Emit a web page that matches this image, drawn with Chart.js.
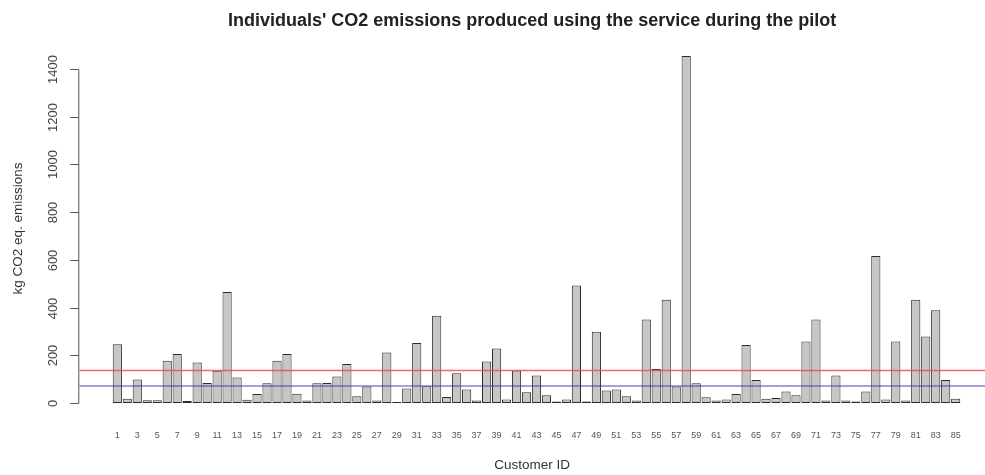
<!DOCTYPE html>
<html>
<head>
<meta charset="utf-8">
<title>Individuals' CO2 emissions</title>
<script src="https://cdn.jsdelivr.net/npm/chart.js@4/dist/chart.umd.min.js"></script>
<style>
  html, body { margin: 0; padding: 0; background: #ffffff; }
  #wrap { width: 985px; height: 475px; }
</style>
</head>
<body>
<div id="wrap"><canvas id="chart" width="985" height="475"></canvas></div>
<script>
// Customer IDs shown along the horizontal axis
const customerIds = [
  1, 2, 3, 4, 5, 6, 7, 8, 9, 10,
  11, 12, 13, 14, 15, 16, 17, 18, 19, 20,
  21, 22, 23, 24, 25, 26, 27, 28, 29, 30,
  31, 32, 33, 34, 35, 36, 37, 38, 39, 40,
  41, 42, 43, 44, 45, 46, 47, 48, 49, 50,
  51, 52, 53, 54, 55, 56, 57, 58, 59, 60,
  61, 62, 63, 64, 65, 66, 67, 68, 69, 70,
  71, 72, 73, 74, 75, 76, 77, 78, 79, 80,
  81, 82, 83, 84, 85
];

// kg CO2 eq. emitted by each customer during the pilot
const emissions = [
  246, 18, 98, 11, 11, 177, 205, 8, 170, 84,
  135, 465, 107, 13, 37, 82, 177, 205, 39, 10,
  82, 84, 111, 163, 28, 69, 10, 211, 4, 60,
  251, 70, 365, 25, 124, 56, 10, 174, 228, 14,
  136, 45, 115, 32, 6, 14, 492, 6, 298, 52,
  56, 28, 10, 350, 142, 433, 69, 1455, 82, 24,
  10, 14, 37, 243, 96, 17, 21, 48, 32, 258,
  350, 10, 115, 10, 6, 48, 616, 14, 258, 10,
  433, 279, 389, 96, 17
];

// Labelled IDs on the horizontal axis (every other customer)
const idTicks = [
  1, 3, 5, 7, 9, 11, 13, 15, 17, 19, 21, 23, 25, 27, 29, 31, 33, 35, 37, 39, 41, 43,
  45, 47, 49, 51, 53, 55, 57, 59, 61, 63, 65, 67, 69, 71, 73, 75, 77, 79, 81, 83, 85
];

// Labelled values on the vertical axis
const yTicks = [0, 200, 400, 600, 800, 1000, 1200, 1400];

// Reference levels drawn across the plot
const meanLevel = 136;   // red line
const medianLevel = 71;  // blue line

const X_MIN = -2.81, X_MAX = 87.94;
const Y_MIN = -59, Y_MAX = 1522;

const FONT = "'Liberation Sans', Arial, Helvetica, sans-serif";

// Vertical axis in base-graphics style: line spans first to last tick,
// rotated tick labels and rotated axis title.
const baseYAxis = {
  id: 'baseYAxis',
  afterDraw(chart) {
    const { ctx, chartArea } = chart;
    const y = chart.scales.y;
    const axisX = chartArea.left - 1;
    ctx.save();
    ctx.strokeStyle = '#555555';
    ctx.lineWidth = 1;
    ctx.beginPath();
    ctx.moveTo(axisX + 0.5, Math.round(y.getPixelForValue(yTicks[0])) + 0.5);
    ctx.lineTo(axisX + 0.5, Math.round(y.getPixelForValue(yTicks[yTicks.length - 1])) + 0.5);
    ctx.stroke();
    ctx.fillStyle = '#444444';
    ctx.font = '13px ' + FONT;
    ctx.textAlign = 'center';
    ctx.textBaseline = 'alphabetic';
    yTicks.forEach(v => {
      const py = Math.round(y.getPixelForValue(v)) + 0.5;
      ctx.beginPath();
      ctx.moveTo(axisX + 0.5, py);
      ctx.lineTo(axisX - 8, py);
      ctx.stroke();
      ctx.save();
      ctx.translate(57, py);
      ctx.rotate(-Math.PI / 2);
      ctx.fillText(String(v), 0, 0);
      ctx.restore();
    });
    ctx.save();
    ctx.fillStyle = '#333333';
    ctx.font = '13.5px ' + FONT;
    ctx.translate(22, (chartArea.top + chartArea.bottom) / 2);
    ctx.rotate(-Math.PI / 2);
    ctx.fillText('kg CO2 eq. emissions', 0, 0);
    ctx.restore();
    ctx.restore();
  }
};

new Chart(document.getElementById('chart'), {
  type: 'bar',
  data: {
    labels: customerIds,
    datasets: [
      {
        type: 'line',
        data: [{ x: X_MIN, y: meanLevel }, { x: X_MAX, y: meanLevel }],
        borderColor: 'rgba(235,80,80,0.85)',
        borderWidth: 1.3,
        pointRadius: 0,
        order: 0
      },
      {
        type: 'line',
        data: [{ x: X_MIN, y: medianLevel }, { x: X_MAX, y: medianLevel }],
        borderColor: 'rgba(50,50,170,0.9)',
        borderWidth: 1.2,
        pointRadius: 0,
        order: 0
      },
      {
        type: 'bar',
        data: emissions,
        backgroundColor: '#c6c6c6',
        borderColor: '#2b2b2b',
        borderWidth: 1,
        borderSkipped: false,
        categoryPercentage: 1,
        barPercentage: 0.92,
        order: 1
      }
    ]
  },
  options: {
    responsive: false,
    devicePixelRatio: 1,
    animation: false,
    layout: { padding: { left: 79.3, right: 0, top: 0, bottom: 0 } },
    plugins: {
      legend: { display: false },
      tooltip: { enabled: false },
      title: {
        display: true,
        fullSize: false,
        text: "Individuals' CO2 emissions produced using the service during the pilot",
        color: '#222222',
        font: { family: FONT, size: 18, weight: 'bold' },
        padding: { top: 10.3, bottom: 8.0 }
      }
    },
    scales: {
      x: {
        type: 'linear',
        min: X_MIN,
        max: X_MAX,
        offset: false,
        grid: { display: false, drawTicks: false },
        border: { display: false },
        afterBuildTicks(scale) {
          scale.ticks = idTicks.map(v => ({ value: v }));
        },
        afterFit(scale) { scale.height = 58; },
        ticks: {
          autoSkip: false,
          maxRotation: 0,
          minRotation: 0,
          padding: 13,
          color: '#555555',
          font: { family: FONT, size: 9 },
          callback: v => String(v)
        },
        title: {
          display: true,
          text: 'Customer ID',
          color: '#333333',
          font: { family: FONT, size: 13.5 },
          padding: { top: 0, bottom: 1.2 }
        }
      },
      y: {
        type: 'linear',
        display: false,
        min: Y_MIN,
        max: Y_MAX
      }
    }
  },
  plugins: [baseYAxis]
});
</script>
</body>
</html>
